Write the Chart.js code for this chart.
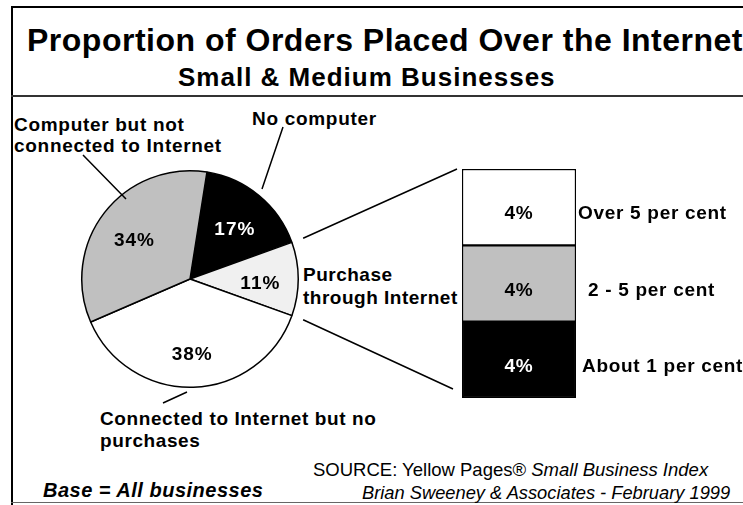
<!DOCTYPE html>
<html>
<head>
<meta charset="utf-8">
<title>Proportion of Orders Placed Over the Internet</title>
<script src="https://cdn.jsdelivr.net/npm/chart.js@4.4.0/dist/chart.umd.min.js"></script>
<style>
  body { margin: 0; background: #fff; }
  #page { position: relative; width: 743px; height: 505px; overflow: hidden;
          font-family: "Liberation Sans", Arial, sans-serif; color: #000; }
  .t { position: absolute; white-space: nowrap; line-height: 1; font-weight: bold; }
  .lbl { font-size: 19px; letter-spacing: 0.7px; }
  .rule { position: absolute; background: #000; }
  canvas { position: absolute; }
</style>
</head>
<body>
<div id="page">
  <!-- frame -->
  <div class="rule" style="left:11px; top:6px; width:732px; height:2px;"></div>
  <div class="rule" style="left:11px; top:6px; width:2px; height:499px;"></div>
  <div class="rule" style="left:11px; top:95px; width:732px; height:2px; background:#333;"></div>
  <div class="rule" style="left:11px; top:502px; width:732px; height:1px; background:#666;"></div>

  <div class="t" style="left:27px; top:24px; font-size:32px; letter-spacing:0.5px;">Proportion of Orders Placed Over the Internet</div>
  <div class="t" style="left:178px; top:64px; font-size:26px; letter-spacing:1px;">Small &amp; Medium Businesses</div>

  <div class="t lbl" style="left:14px; top:114px; line-height:21px;">Computer but not<br>connected to Internet</div>
  <div class="t lbl" style="left:252px; top:109px;">No computer</div>
  <div class="t lbl" style="left:303px; top:263px; line-height:23px; letter-spacing:0.5px;">Purchase<br>through Internet</div>
  <div class="t lbl" style="left:100px; top:408px; line-height:22px; letter-spacing:0.6px;">Connected to Internet but no<br>purchases</div>

  <div class="t" style="left:313px; top:461px; font-size:18.5px; font-weight:normal;">SOURCE: Yellow Pages® <i>Small Business Index</i></div>
  <div class="t" style="left:43px; top:480px; font-size:20px; letter-spacing:0.5px; font-style:italic;">Base = All businesses</div>
  <div class="t" style="left:362px; top:484px; font-size:18.3px; font-weight:normal; font-style:italic;">Brian Sweeney &amp; Associates - February 1999</div>

  <canvas id="pie" width="224" height="224" style="left:78px; top:167px;"></canvas>
  <canvas id="band" width="281" height="229" style="left:462px; top:169px;"></canvas>
  <canvas id="overlay" width="743" height="505" style="left:0; top:0; pointer-events:none;"></canvas>
</div>

<script>
// Share of all businesses
const pieLabels = ['No computer', 'Purchase through Internet', 'Connected to Internet but no purchases', 'Computer but not connected to Internet'];
const pieValues = [17, 11, 38, 34];
const pieColors = ['#000000', '#f0f0f0', '#ffffff', '#c0c0c0'];
const pieTextColors = ['#ffffff', '#000000', '#000000', '#000000'];

// Breakdown of the "purchase through Internet" slice (bottom to top)
const bandLabels = ['About 1 per cent', '2 - 5 per cent', 'Over 5 per cent'];
const bandValues = [4, 4, 4];
const bandColors = ['#000000', '#c0c0c0', '#ffffff'];
const bandTextColors = ['#ffffff', '#000000', '#000000'];

const FONT = '"Liberation Sans", Arial, sans-serif';

// percentage inside each slice
const pieTextPlugin = {
    id: 'pieText',
    afterDatasetsDraw(chart) {
        const ctx = chart.ctx;
        const arcs = chart.getDatasetMeta(0).data;
        ctx.save();
        ctx.font = 'bold 19px ' + FONT;
        ctx.letterSpacing = '1px';
        ctx.textAlign = 'center';
        ctx.textBaseline = 'middle';
        arcs.forEach((arc, i) => {
            const p = arc.getProps(['x', 'y', 'startAngle', 'endAngle', 'outerRadius']);
            const mid = (p.startAngle + p.endAngle) / 2;
            const r = p.outerRadius * 0.65;
            ctx.fillStyle = pieTextColors[i];
            ctx.fillText(pieValues[i] + '%', p.x + Math.cos(mid) * r, p.y + Math.sin(mid) * r + 5);
        });
        ctx.restore();
    }
};

// value inside each band, label to the right
const bandLabelOffsets = [6, 12, 2];
const bandTextPlugin = {
    id: 'bandText',
    afterDatasetsDraw(chart) {
        const ctx = chart.ctx;
        ctx.save();
        ctx.font = 'bold 19px ' + FONT;
        ctx.letterSpacing = '0.7px';
        ctx.textBaseline = 'middle';
        chart.data.datasets.forEach((ds, i) => {
            const bar = chart.getDatasetMeta(i).data[0];
            const p = bar.getProps(['x', 'y', 'base']);
            const cy = (p.y + p.base) / 2 + 7;
            ctx.textAlign = 'center';
            ctx.fillStyle = bandTextColors[i];
            ctx.fillText(ds.data[0] + '%', p.x, cy);
            ctx.textAlign = 'left';
            ctx.fillStyle = '#000';
            ctx.fillText(ds.label, chart.chartArea.right + bandLabelOffsets[i], cy);
        });
        ctx.restore();
    }
};

const pieChart = new Chart(document.getElementById('pie'), {
    type: 'pie',
    data: {
        labels: pieLabels,
        datasets: [{
            data: pieValues,
            backgroundColor: pieColors,
            borderColor: '#000',
            borderWidth: 1.5
        }]
    },
    options: {
        responsive: false,
        animation: false,
        devicePixelRatio: 1,
        rotation: 9,
        layout: { padding: 3 },
        plugins: { legend: { display: false }, tooltip: { enabled: false } }
    },
    plugins: [pieTextPlugin]
});

const bandChart = new Chart(document.getElementById('band'), {
    type: 'bar',
    data: {
        labels: [''],
        datasets: bandLabels.map((label, i) => ({
            label: label,
            data: [bandValues[i]],
            backgroundColor: bandColors[i],
            borderColor: '#000',
            borderWidth: 1.5,
            borderSkipped: false,
            barPercentage: 1,
            categoryPercentage: 1
        }))
    },
    options: {
        responsive: false,
        animation: false,
        devicePixelRatio: 1,
        layout: { padding: { left: 0, right: 167, top: 0, bottom: 0 } },
        scales: {
            x: { stacked: true, display: false },
            y: { stacked: true, display: false, min: 0, max: 12 }
        },
        plugins: { legend: { display: false }, tooltip: { enabled: false } }
    },
    plugins: [bandTextPlugin]
});

// connector lines and label leaders, in page coordinates
function drawOverlay() {
    const ov = document.getElementById('overlay');
    const ctx = ov.getContext('2d');
    const pieBox = pieChart.canvas.getBoundingClientRect();
    const page = document.getElementById('page').getBoundingClientRect();
    const bandBox = bandChart.canvas.getBoundingClientRect();

    const arc = pieChart.getDatasetMeta(0).data[1].getProps(['x', 'y', 'startAngle', 'endAngle', 'outerRadius']);
    const cx = pieBox.left - page.left + arc.x;
    const cy = pieBox.top - page.top + arc.y;
    const rOut = arc.outerRadius + 12;

    const area = bandChart.chartArea;
    const bx = bandBox.left - page.left + area.left;
    const top = bandBox.top - page.top + area.top;
    const bottom = bandBox.top - page.top + area.bottom;

    ctx.strokeStyle = '#000';
    ctx.lineWidth = 1.5;
    ctx.beginPath();
    ctx.moveTo(cx + Math.cos(arc.startAngle) * rOut, cy + Math.sin(arc.startAngle) * rOut);
    ctx.lineTo(bx - 5, top);
    ctx.moveTo(cx + Math.cos(arc.endAngle) * rOut, cy + Math.sin(arc.endAngle) * rOut);
    ctx.lineTo(bx - 9, bottom - 9);

    // leaders from the outer labels into their slices
    const leaders = [
        [[-107, -124], [-64, -80]],
        [[93, -152], [72, -90]],
        [[-3, 113], [-27, 124]]
    ];
    leaders.forEach(([a, b]) => {
        ctx.moveTo(cx + a[0], cy + a[1]);
        ctx.lineTo(cx + b[0], cy + b[1]);
    });
    ctx.stroke();
}
drawOverlay();
</script>
</body>
</html>
